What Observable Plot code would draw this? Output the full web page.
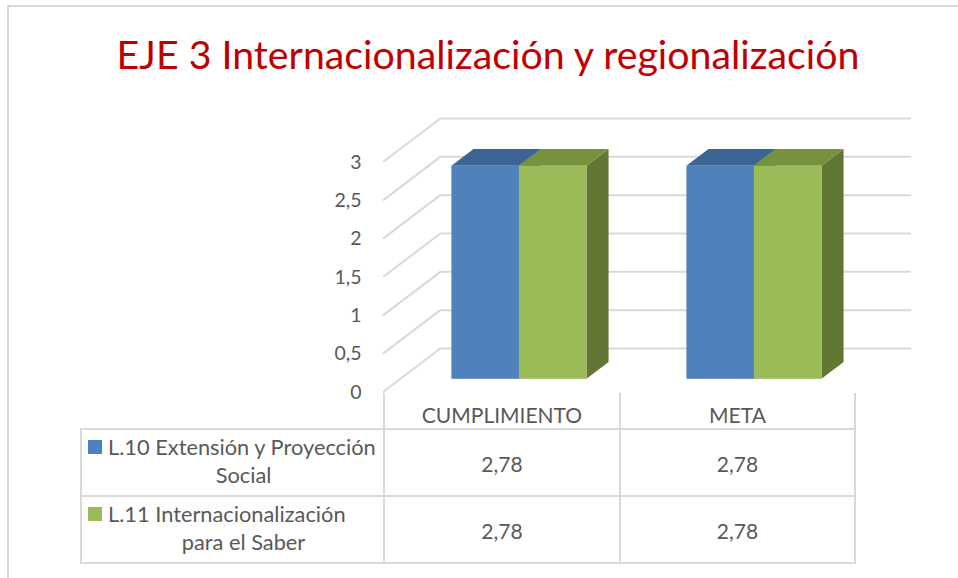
<!DOCTYPE html>
<html>
<head>
<meta charset="utf-8">
<script src="https://cdn.jsdelivr.net/npm/d3@7"></script>
<script src="https://cdn.jsdelivr.net/npm/@observablehq/plot@0.6"></script>
<style>
  html, body { margin: 0; padding: 0; background: #fff; }
  body { width: 958px; height: 578px; overflow: hidden; position: relative; font-family: Lato, "Open Sans", sans-serif; color: #595959; }
  #frame { position: absolute; left: 7px; top: 5px; width: 1000px; height: 700px; border: 2px solid #d9d9d9; box-sizing: border-box; }
  #title { position: absolute; left: 0; top: 30px; width: 976px; text-align: center; font-size: 39.3px; line-height: 1.2; color: #c00000; white-space: nowrap; }
  #chart { position: absolute; left: 0; top: 100px; }
  #chart svg { background: none !important; overflow: visible; }
  #tbl { position: absolute; left: 80px; top: 393px; border-collapse: collapse; font-size: 21px; color: #595959; }
  #tbl td { padding: 0; border: 2px solid #d9d9d9; text-align: center; vertical-align: middle; }
  #tbl tr.head td { height: 35px; vertical-align: bottom; border-top: none; padding-bottom: 0; line-height: 26px; }
  #tbl tr.head td.blank { border-left: none; border-top: none; }
  #tbl tr.row td { height: 62px; padding-top: 1px; }
  #tbl tr.row td.lab { padding-top: 0; padding-bottom: 3px; }
  .lab { width: 301px; }
  .lab div { position: relative; margin-left: 26px; width: 271px; text-align: left; text-align-last: center; line-height: 28px; font-size: 21.8px; }
  .sw { position: absolute; left: -20px; top: 7px; width: 14px; height: 14px; }
</style>
</head>
<body>
<div id="frame"></div>
<div id="title"></div>
<div id="chart"></div>
<table id="tbl"></table>
<script>
// ---- data ----
const titleText = "EJE 3 Internacionalización y regionalización";
const categories = ["CUMPLIMIENTO", "META"];
const seriesNames = ["L.10 Extensión y Proyección Social", "L.11 Internacionalización para el Saber"];
const l10Values = [2.78, 2.78];
const l11Values = [2.78, 2.78];
const yTicks = [0, 0.5, 1, 1.5, 2, 2.5, 3];
const seriesColors = [
  {front: "#4f81bd", top: "#3d6594", side: "#3a5f8c"},
  {front: "#9bbb59", top: "#77923e", side: "#637734"}
];

// ---- layout ----
const W = 958, H = 300, ML = 383, MR = 105, MT = 62, MB = 8;
const DX = 58, DY = -44;          // full floor depth (px)
const FRONT = 0.3, DEPTH = 0.38;  // bar front plane and bar depth, as fraction of floor depth
const PAIR_OFFSET = 0.217, BAR_FRAC = 0.2875; // within a category band
const BAND = (W - ML - MR) / categories.length;
const GRID = "#d9d9d9";

const seriesValues = [l10Values, l11Values];
const rows = categories.map((c, i) => ({category: c, l10: l10Values[i], l11: l11Values[i]}));
const fmt = v => String(v).replace(".", ",");

document.getElementById("title").textContent = titleText;

function diagonals() {
  return (index, scales) => {
    const x = scales.x, y = scales.y;
    const xl = x(categories[0]);
    const g = d3.create("svg:g").attr("stroke", GRID).attr("stroke-width", 2).attr("fill", "none");
    for (const t of yTicks) {
      g.append("line").attr("x1", xl).attr("y1", y(t)).attr("x2", xl + DX).attr("y2", y(t) + DY);
    }
    return g.node();
  };
}

function faces(s) {
  return (index, scales) => {
    const x = scales.x, y = scales.y;
    const bw = x.bandwidth ? x.bandwidth() : BAND;
    const g = d3.create("svg:g");
    rows.forEach((r, j) => {
      const v = seriesValues[s][j];
      const x0 = x(r.category) + bw * (PAIR_OFFSET + s * BAR_FRAC) + FRONT * DX;
      const x1 = x0 + bw * BAR_FRAC;
      const yb = y(0) + FRONT * DY, yt = y(v) + FRONT * DY;
      const ddx = DEPTH * DX, ddy = DEPTH * DY;
      g.append("path").attr("fill", seriesColors[s].side)
        .attr("d", `M${x1},${yb}L${x1},${yt}L${x1 + ddx},${yt + ddy}L${x1 + ddx},${yb + ddy}Z`);
      g.append("path").attr("fill", seriesColors[s].top)
        .attr("d", `M${x0},${yt}L${x1},${yt}L${x1 + ddx},${yt + ddy}L${x0 + ddx},${yt + ddy}Z`);
    });
    return g.node();
  };
}

function fronts(s) {
  const left = BAND * (PAIR_OFFSET + s * BAR_FRAC);
  const right = BAND - left - BAND * BAR_FRAC;
  return Plot.barY(rows, {
    x: "category", y: s === 0 ? "l10" : "l11",
    fill: seriesColors[s].front,
    insetLeft: left, insetRight: right,
    dx: FRONT * DX, dy: FRONT * DY
  });
}

const plot = Plot.plot({
  width: W, height: H,
  marginLeft: ML, marginRight: MR, marginTop: MT, marginBottom: MB,
  style: {fontFamily: "Lato, 'Open Sans', sans-serif", fontSize: "19.5px", color: "#595959", background: "none", overflow: "visible"},
  x: {type: "band", domain: categories, padding: 0, axis: null},
  y: {domain: [0, 3], ticks: yTicks, tickFormat: fmt, tickSize: 0, tickPadding: 22, label: null},
  marks: [
    Plot.ruleY(yTicks, {dx: DX, dy: DY, stroke: GRID, strokeWidth: 2}),
    diagonals(),
    faces(0), fronts(0),
    faces(1), fronts(1)
  ]
});
document.getElementById("chart").appendChild(plot);

// ---- data table (legend) ----
const tbl = d3.select("#tbl");
const head = tbl.append("tr").attr("class", "head");
head.append("td").attr("class", "blank lab");
categories.forEach((c, i) => head.append("td").style("width", (i === 0 ? BAND - 1 : BAND - 2) + "px").text(c));
seriesNames.forEach((name, s) => {
  const tr = tbl.append("tr").attr("class", "row");
  const div = tr.append("td").attr("class", "lab").append("div");
  div.append("span").attr("class", "sw").style("background", seriesColors[s].front);
  div.append("span").text(name);
  seriesValues[s].forEach(v => tr.append("td").text(fmt(v)));
});
</script>
</body>
</html>
